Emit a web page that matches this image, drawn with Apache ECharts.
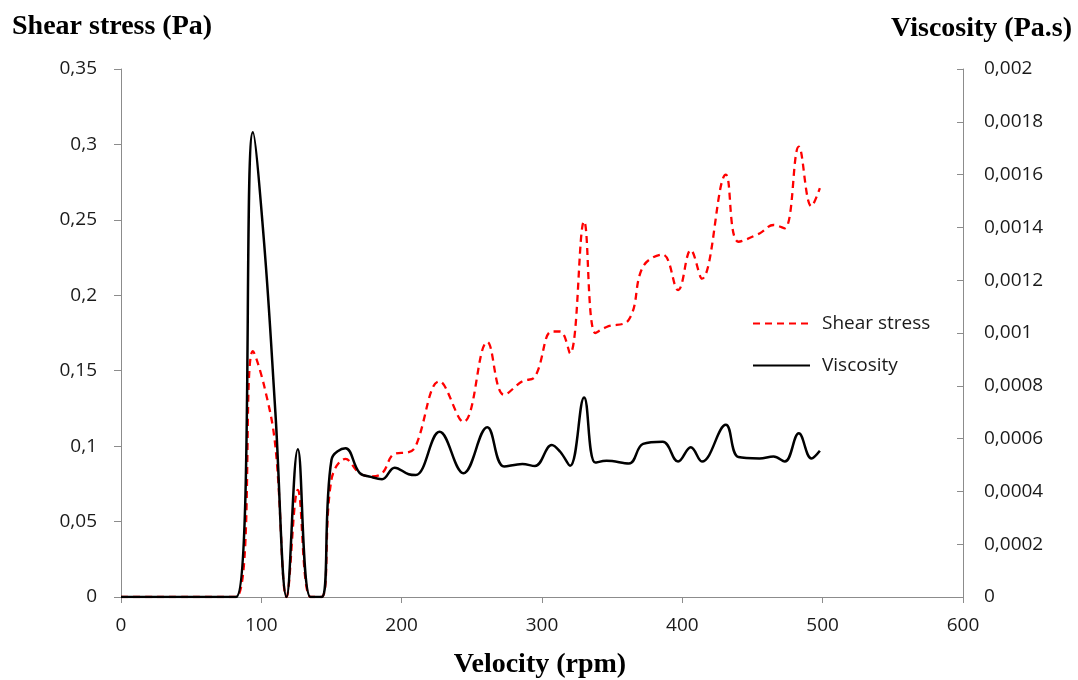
<!DOCTYPE html>
<html>
<head>
<meta charset="utf-8">
<script src="https://cdn.jsdelivr.net/npm/echarts@6/dist/echarts.min.js"></script>
<style>
html,body{margin:0;padding:0;background:#fff;}
#chart{width:1078px;height:680px;}
</style>
</head>
<body>
<div id="chart"></div>
<script>
// Velocity (rpm)
var velocity = [0, 20, 40, 60, 82, 94, 102, 110, 118, 126, 135, 143, 150, 160, 170, 178, 186, 195, 205, 210, 227, 244, 261, 273, 286, 295, 307, 313, 320, 330, 338, 346, 362, 372, 386, 397, 406, 414, 431, 440, 455, 465, 473, 483, 492, 498];
// Shear stress (Pa)
var shearStress = [0, 0, 0, 0, 0, 0.163, 0.14, 0.1, 0, 0.071, 0, 0, 0.078, 0.0915, 0.082, 0.08, 0.082, 0.095, 0.096, 0.1, 0.143, 0.116, 0.169, 0.134, 0.143, 0.146, 0.176, 0.176, 0.1615, 0.249, 0.175, 0.179, 0.184, 0.219, 0.227, 0.2035, 0.23, 0.211, 0.28, 0.2355, 0.241, 0.2466, 0.2444, 0.2985, 0.259, 0.271];
// Viscosity (Pa.s)
var viscosity = [0, 0, 0, 0, 0, 0.00176, 0.00134, 0.0007, 0, 0.00056, 0, 0, 0.00052, 0.000563, 0.00047, 0.000455, 0.000446, 0.00049, 0.000465, 0.000462, 0.000626, 0.000469, 0.000643, 0.000494, 0.000504, 0.000496, 0.000576, 0.00055, 0.000497, 0.000756, 0.000509, 0.000516, 0.000506, 0.00058, 0.000588, 0.000513, 0.000567, 0.000513, 0.000652, 0.00053, 0.000525, 0.000532, 0.000513, 0.00062, 0.000525, 0.000554];

var seriesNames = ['Shear stress', 'Viscosity'];
var axisTitles = {left: 'Shear stress (Pa)', right: 'Viscosity (Pa.s)', x: 'Velocity (rpm)'};

function pairs(xs, ys) { return xs.map(function (x, i) { return [x, ys[i]]; }); }
function comma(v, d) { return String(+v.toFixed(d)).replace('.', ','); }

var labelFont = {fontFamily: '"Open Sans", Lato, sans-serif', fontSize: 19, color: '#1a1a1a'};
var titleFont = {fontFamily: '"Liberation Serif", "DejaVu Serif", serif', fontSize: 28, fontWeight: 'bold', color: '#000'};
var axisGray = '#8c8c8c';

var chart = echarts.init(document.getElementById('chart'), null, {renderer: 'canvas'});
chart.setOption({
  animation: false,
  backgroundColor: '#fff',
  grid: {left: 121, right: 115, top: 69, bottom: 83, containLabel: false},
  title: [
    {text: axisTitles.left, left: 7, top: 8, textStyle: titleFont},
    {text: axisTitles.right, right: 1, top: 10, textStyle: titleFont},
    {text: axisTitles.x, left: 535, textAlign: 'center', top: 646, textStyle: titleFont}
  ],
  legend: {
    orient: 'vertical',
    left: 747,
    top: 309,
    itemWidth: 57,
    itemHeight: 14,
    itemGap: 23,
    data: seriesNames,
    itemStyle: {opacity: 0},
    textStyle: Object.assign({padding: [0, 0, 0, 7], lineHeight: 14}, labelFont)
  },
  xAxis: {
    type: 'value', min: 0, max: 600, interval: 100,
    axisLine: {lineStyle: {color: axisGray, width: 1}},
    axisTick: {length: 6, lineStyle: {color: axisGray}},
    axisLabel: Object.assign({margin: 19}, labelFont),
    splitLine: {show: false}
  },
  yAxis: [
    {
      type: 'value', min: 0, max: 0.35, interval: 0.05, position: 'left',
      axisLine: {show: true, lineStyle: {color: axisGray, width: 1}},
      axisTick: {show: true, length: 7, lineStyle: {color: axisGray}},
      axisLabel: Object.assign({margin: 24, formatter: function (v) { return comma(v, 2); }}, labelFont),
      splitLine: {show: false}
    },
    {
      type: 'value', min: 0, max: 0.002, interval: 0.0002, position: 'right',
      axisLine: {show: true, lineStyle: {color: axisGray, width: 1}},
      axisTick: {show: true, inside: true, length: 6, lineStyle: {color: axisGray}},
      axisLabel: Object.assign({margin: 21, formatter: function (v) { return comma(v, 4); }}, labelFont),
      splitLine: {show: false}
    }
  ],
  series: [
    {
      name: seriesNames[0], type: 'line', yAxisIndex: 0,
      data: pairs(velocity, shearStress),
      smooth: 0.4, symbol: 'none', clip: true,
      lineStyle: {color: '#ff0000', width: 2.3, type: [7, 5]},
      itemStyle: {color: '#ff0000'},
      z: 2
    },
    {
      name: seriesNames[1], type: 'line', yAxisIndex: 1,
      data: pairs(velocity, viscosity),
      smooth: 0.4, symbol: 'none', clip: true,
      lineStyle: {color: '#000000', width: 2.5, type: 'solid'},
      itemStyle: {color: '#000000'},
      z: 3
    }
  ]
});
</script>
</body>
</html>
